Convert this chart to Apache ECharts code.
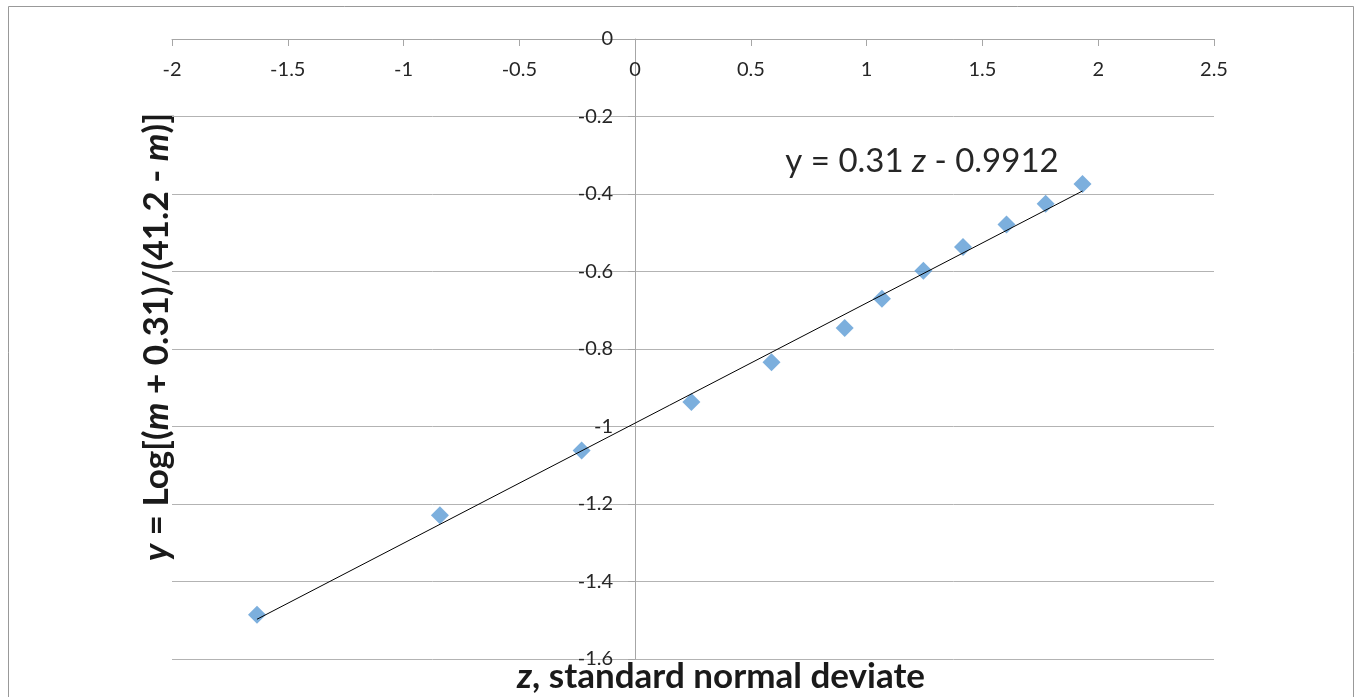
<!DOCTYPE html>
<html>
<head>
<meta charset="utf-8">
<script src="https://cdn.jsdelivr.net/npm/echarts@6/dist/echarts.min.js"></script>
<style>
html,body{margin:0;padding:0;background:#fff;}
#chart{width:1356px;height:697px;}
</style>
</head>
<body>
<div id="chart"></div>
<script>
// Data
const zValues = [-1.633, -0.843, -0.231, 0.243, 0.589, 0.905, 1.066, 1.245, 1.416, 1.604, 1.773, 1.932];
const yValues = [-1.486, -1.229, -1.062, -0.937, -0.834, -0.746, -0.670, -0.598, -0.537, -0.479, -0.425, -0.374];
const trendSlope = 0.31;
const trendIntercept = -0.9912;
const xTicks = [-2, -1.5, -1, -0.5, 0, 0.5, 1, 1.5, 2, 2.5];
const yTicks = [-1.6, -1.4, -1.2, -1, -0.8, -0.6, -0.4, -0.2, 0];

const points = zValues.map((z, i) => [z, yValues[i]]);
const zMin = Math.min(...zValues), zMax = Math.max(...zValues);
const trend = [[zMin, trendSlope * zMin + trendIntercept], [zMax, trendSlope * zMax + trendIntercept]];

const GRID = {left: 172, top: 39, width: 1042, height: 620};
const xMin = xTicks[0], xMax = xTicks[xTicks.length - 1];
// y axis crosses at z = 0 : shift it inward from the grid's left edge
const yAxisOffset = -(0 - xMin) / (xMax - xMin) * GRID.width;

const FONT = 'Lato, "Open Sans", sans-serif';
const chart = echarts.init(document.getElementById('chart'), null, {renderer: 'canvas'});
chart.setOption({
  animation: false,
  backgroundColor: '#fff',
  grid: Object.assign({containLabel: false}, GRID),
  xAxis: {
    type: 'value', min: xMin, max: xMax, interval: 0.5, position: 'top',
    axisLine: {show: true, onZero: false, lineStyle: {color: '#a6a6a6', width: 1}},
    axisTick: {show: true, inside: true, length: 7, lineStyle: {color: '#a6a6a6'}},
    axisLabel: {inside: true, margin: 21, color: '#262626', fontFamily: FONT, fontSize: 20},
    splitLine: {show: false}
  },
  yAxis: {
    type: 'value', min: yTicks[0], max: yTicks[yTicks.length - 1], interval: 0.2,
    position: 'left', offset: yAxisOffset,
    axisLine: {show: true, onZero: false, lineStyle: {color: '#a6a6a6', width: 1}},
    axisTick: {show: true, length: 7, lineStyle: {color: '#a6a6a6'}},
    axisLabel: {margin: 22, color: '#262626', fontFamily: FONT, fontSize: 20,
      formatter: v => String(Math.round(v * 10) / 10)},
    splitLine: {show: true, lineStyle: {color: '#b3b3b3', width: 1}}
  },
  series: [
    {type: 'scatter', data: points, symbol: 'diamond', symbolSize: 18,
     itemStyle: {color: '#5b9bd5'}, z: 2},
    {type: 'line', data: trend, symbol: 'none', z: 3,
     lineStyle: {color: '#000', width: 1}}
  ],
  graphic: [
    {type: 'rect', shape: {x: 8.5, y: 6.5, width: 1345, height: 720}, silent: true,
     style: {fill: 'none', stroke: '#999', lineWidth: 1}},
    {type: 'text', x: 721, y: 677,
     style: {text: '{i|z}{b|, standard normal deviate}', textAlign: 'center', textVerticalAlign: 'middle',
       rich: {i: {fontFamily: FONT, fontSize: 35, fontWeight: 'bold', fontStyle: 'italic', fill: '#1a1a1a'},
              b: {fontFamily: FONT, fontSize: 35, fontWeight: 'bold', fill: '#1a1a1a'}}}},
    {type: 'text', x: 157, y: 337, rotation: Math.PI / 2,
     style: {text: '{i|y}{b| = Log[(}{i|m}{b| + 0.31)/(41.2 - }{i|m}{b|)]}', textAlign: 'center', textVerticalAlign: 'middle',
       rich: {i: {fontFamily: FONT, fontSize: 35, fontWeight: 'bold', fontStyle: 'italic', fill: '#1a1a1a'},
              b: {fontFamily: FONT, fontSize: 35, fontWeight: 'bold', fill: '#1a1a1a'}}}},
    {type: 'text', x: 922, y: 161,
     style: {text: '{n|y = 0.31 }{i|z}{n| - 0.9912}', textAlign: 'center', textVerticalAlign: 'middle',
       rich: {n: {fontFamily: FONT, fontSize: 33, fill: '#262626'},
              i: {fontFamily: FONT, fontSize: 33, fontStyle: 'italic', fill: '#262626'}}}}
  ]
});
</script>
</body>
</html>
